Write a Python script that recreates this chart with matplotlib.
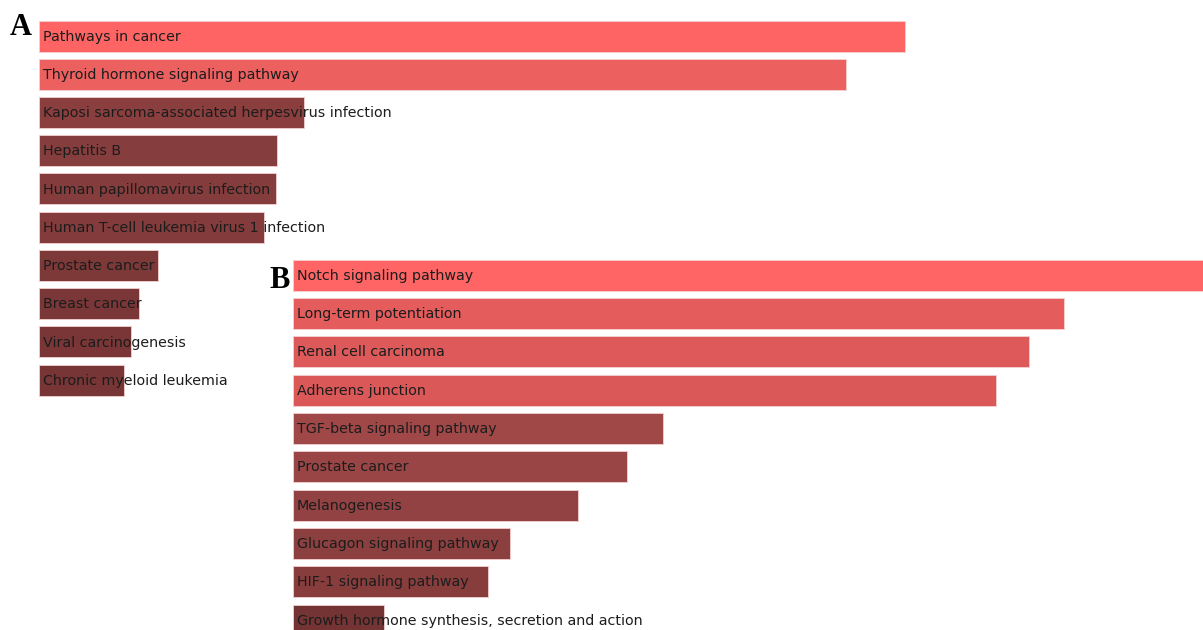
import matplotlib
matplotlib.use("Agg")
import matplotlib.pyplot as plt

# Panel A data (bar lengths, arbitrary units)
terms_a = ["Pathways in cancer", "Thyroid hormone signaling pathway",
           "Kaposi sarcoma-associated herpesvirus infection", "Hepatitis B",
           "Human papillomavirus infection", "Human T-cell leukemia virus 1 infection",
           "Prostate cancer", "Breast cancer", "Viral carcinogenesis",
           "Chronic myeloid leukemia"]
values_a = [866, 807, 265, 238, 237, 225, 119, 100, 92, 85]
colors_a = ["#ff6464", "#ec6060", "#8a3e3e", "#863d3d", "#853c3c",
            "#833b3b", "#7d3838", "#7b3737", "#7a3636", "#783535"]

# Panel B data
terms_b = ["Notch signaling pathway", "Long-term potentiation", "Renal cell carcinoma",
           "Adherens junction", "TGF-beta signaling pathway", "Prostate cancer",
           "Melanogenesis", "Glucagon signaling pathway", "HIF-1 signaling pathway",
           "Growth hormone synthesis, secretion and action"]
values_b = [915, 771, 736, 703, 370, 334, 285, 217, 195, 91]
colors_b = ["#ff6565", "#e45c5c", "#de5a5a", "#da5858", "#a04848", "#9a4545",
            "#924242", "#8c3f3f", "#883d3d", "#743434"]

W, H = 1203, 630
fig = plt.figure(figsize=(W / 100, H / 100), dpi=100)
fig.patch.set_facecolor("white")


def panel(left_px, first_c, last_c, terms, values, colors, label, lab_xy):
    ax = fig.add_axes([left_px / W, 0, (W - left_px) / W, 1])
    ax.patch.set_alpha(0)
    n = len(terms)
    step = (last_c - first_c) / (n - 1)
    top = -first_c / step
    bottom = (H - first_c) / step
    ax.set_ylim(bottom, top)
    ax.set_xlim(0, W - left_px)
    ax.axis("off")
    ypos = list(range(n))
    ax.barh(ypos, values, height=31 / step, color=colors,
            edgecolor="#f4d0d0", linewidth=0.6, align="center")
    for y, t in zip(ypos, terms):
        ax.text(4, y + 0.02, t, fontsize=10.3, color="#1c1c1c",
                va="center", ha="left", family="DejaVu Sans")
    fig.text(lab_xy[0] / W, 1 - lab_xy[1] / H, label, fontsize=22,
             fontweight="bold", family="Liberation Serif",
             ha="left", va="baseline", color="black")
    return ax


panel(39, 36, 380, terms_a, values_a, colors_a, "A", (10, 35))
panel(293, 275, 620, terms_b, values_b, colors_b, "B", (269, 288))

fig.savefig("out.png", dpi=100, facecolor="white")
